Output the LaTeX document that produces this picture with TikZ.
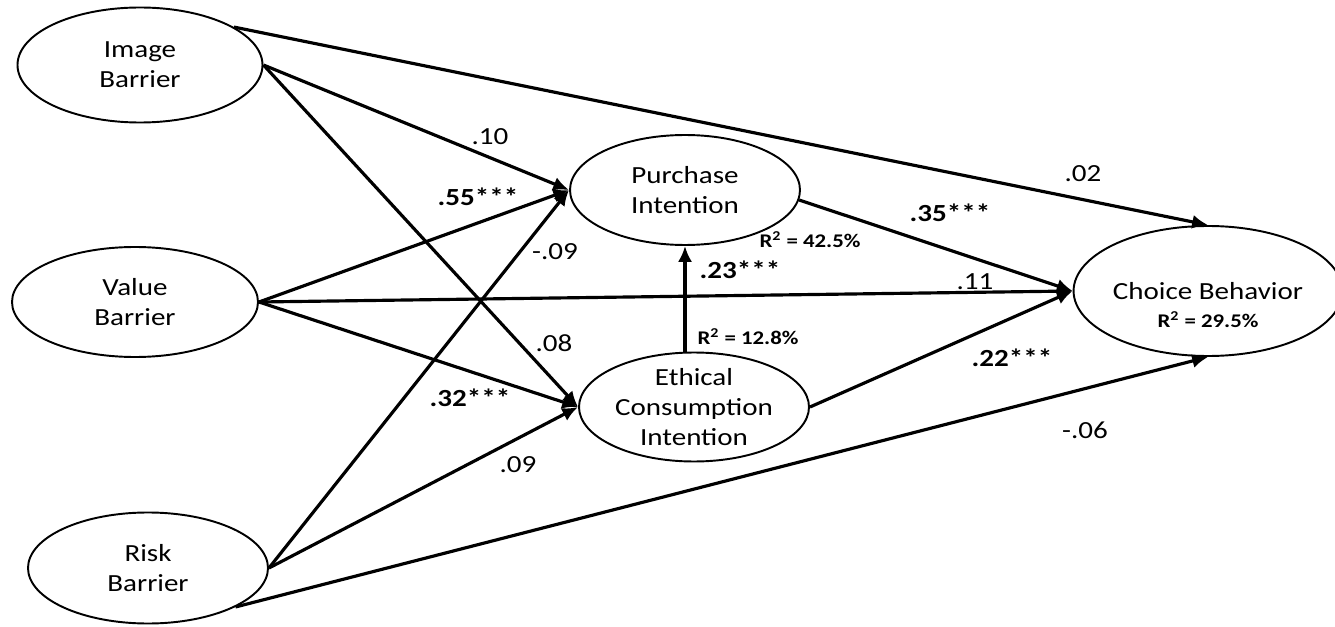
\documentclass[tikz,border=0pt]{standalone}
\usepackage{fontspec}
\setmainfont{Carlito}[FakeStretch=1.18]
\usetikzlibrary{shapes.geometric,arrows.meta}

\begin{document}
\begin{tikzpicture}[
	latent/.style={draw, ellipse, line width=1.1pt, inner sep=0pt, align=center, font=\fontsize{14}{17}\selectfont},
	path/.style={line width=1.8pt, -{Latex[length=9pt,width=8pt]}},
	coef/.style={font=\fontsize{14}{16}\selectfont},
	sig/.style={font=\fontsize{14}{16}\selectfont\bfseries},
	rsq/.style={font=\fontsize{11}{13}\selectfont\bfseries}]
	\useasboundingbox (0,0) rectangle (26.7,12.52);
	\node[latent, minimum width=4.9cm, minimum height=2.3cm] (ib) at (2.8,11.22) {Image\\Barrier};
	\node[latent, minimum width=4.92cm, minimum height=2.2cm] (vb) at (2.7,6.48) {Value\\Barrier};
	\node[latent, minimum width=4.8cm, minimum height=2.22cm] (rb) at (2.96,1.16) {Risk\\Barrier};
	\node[latent, minimum width=4.6cm, minimum height=2.2cm] (pi) at (13.7,8.72) {Purchase\\Intention};
	\node[latent, minimum width=4.6cm, minimum height=2.18cm] (eci) at (13.88,4.38) {Ethical\\Consumption\\Intention};
	\node[latent, minimum width=4.94cm, minimum height=2.6cm] (cb) at (24.16,6.7) {Choice Behavior};
	\node[rsq] (cbr) at (24.16,6.12) {R\textsuperscript{2} = 29.5\%};

	\draw[path] (ib.22) -- (cb.north);
	\draw[path] (ib.east) -- (pi.west);
	\draw[path] (ib.east) -- (eci.west);
	\draw[path] (vb.east) -- (pi.west);
	\draw[path] (vb.east) -- (cb.west);
	\draw[path] (vb.east) -- (eci.west);
	\draw[path] (rb.east) -- (pi.west);
	\draw[path] (rb.east) -- (eci.west);
	\draw[path] (rb.-24) -- (cb.south);
	\draw[path] (pi.south |- eci.north) -- (pi.south);
	\draw[path] (pi.-5) -- (cb.west);
	\draw[path] (eci.east) -- (cb.west);

	\node[coef] (c02) at (21.66,9.04) {.02};
	\node[coef] (c10) at (9.8,9.78) {.10};
	\node[sig] (c55) at (9.56,8.58) {.55***};
	\node[coef] (c09a) at (11.1,7.48) {-.09};
	\node[sig] (c23) at (14.8,7.12) {.23***};
	\node[coef] (c08) at (11.08,5.66) {.08};
	\node[sig] (c32) at (9.4,4.56) {.32***};
	\node[coef] (c09b) at (10.36,3.22) {.09};
	\node[sig] (c35) at (19.0,8.26) {.35***};
	\node[coef] (c11) at (19.5,6.88) {.11};
	\node[sig] (c22) at (20.24,5.36) {.22***};
	\node[coef] (c06) at (21.7,3.92) {-.06};
	\node[rsq] (pir) at (16.2,7.72) {R\textsuperscript{2} = 42.5\%};
	\node[rsq] (ecir) at (14.96,5.78) {R\textsuperscript{2} = 12.8\%};
\end{tikzpicture}
\end{document}
